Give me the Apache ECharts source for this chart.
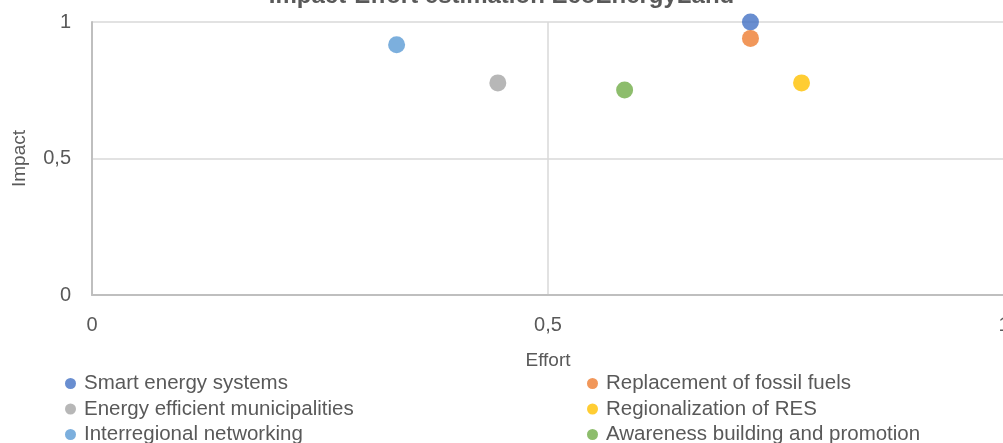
<!DOCTYPE html>
<html>
<head>
<meta charset="utf-8">
<script src="https://cdn.jsdelivr.net/npm/echarts@6/dist/echarts.min.js"></script>
<style>
  html, body { margin: 0; padding: 0; background: #fff; }
  #chart { width: 1003px; height: 443px; }
</style>
</head>
<body>
<div id="chart"></div>
<script>
// measures, in the order Excel lists them
const measureNames = [
  "Smart energy systems",
  "Replacement of fossil fuels",
  "Energy efficient municipalities",
  "Regionalization of RES",
  "Interregional networking",
  "Awareness building and promotion"
];
const effortValues = [0.722, 0.722, 0.445, 0.778, 0.334, 0.584];
const impactValues = [1.0, 0.94, 0.777, 0.777, 0.917, 0.751];
const measureColors = ["#4472C4", "#ED7D31", "#A5A5A5", "#FFC000", "#5B9BD5", "#70AD47"];
const axisTicks = [0, 0.5, 1];

const font = "'Liberation Sans', Arial, sans-serif";
const grey = "#595959";

let chart = echarts.init(document.getElementById("chart"));

function fmt(v) {
  return String(v).replace(".", ",");
}

let series = measureNames.map(function (name, i) {
  return {
    type: "scatter",
    name: name,
    symbolSize: 17,
    itemStyle: { color: measureColors[i] },
    data: [[effortValues[i], impactValues[i]]],
  };
});

let legendText = { fontFamily: font, fontSize: 20.5, color: grey, padding: [0, 0, 0, 3] };

let option = {
  animation: false,
  title: {
    text: "Impact-Effort estimation EcoEnergyLand",
    left: "center",
    top: -21,
    textStyle: { fontFamily: font, fontSize: 24, fontWeight: "bold", color: grey },
  },
  grid: { left: 92, right: -1, top: 22, bottom: 148, outerBoundsMode: "none" },
  xAxis: {
    type: "value",
    min: axisTicks[0],
    max: axisTicks[axisTicks.length - 1],
    interval: 0.5,
    name: "Effort",
    nameLocation: "middle",
    nameGap: 56,
    nameTextStyle: { fontFamily: font, fontSize: 19, color: grey },
    axisLine: { show: true, lineStyle: { color: "#BFBFBF", width: 2 } },
    axisTick: { show: false },
    splitLine: { show: true, lineStyle: { color: "#D9D9D9", width: 1.5 } },
    axisLabel: { fontFamily: font, fontSize: 20, color: grey, margin: 20, formatter: fmt },
  },
  yAxis: {
    type: "value",
    min: axisTicks[0],
    max: axisTicks[axisTicks.length - 1],
    interval: 0.5,
    name: "Impact",
    nameLocation: "middle",
    nameGap: 63,
    nameTextStyle: { fontFamily: font, fontSize: 19, color: grey },
    axisLine: { show: true, lineStyle: { color: "#BFBFBF", width: 2 } },
    axisTick: { show: false },
    splitLine: { show: true, lineStyle: { color: "#D9D9D9", width: 1.5 } },
    axisLabel: { fontFamily: font, fontSize: 20, color: grey, margin: 21, formatter: fmt },
  },
  legend: [
    {
      data: [measureNames[0], measureNames[2], measureNames[4]],
      orient: "vertical",
      left: 60,
      top: 368,
      height: 90,
      itemGap: 4.5,
      itemWidth: 11,
      itemHeight: 11,
      icon: "circle",
      textStyle: legendText,
    },
    {
      data: [measureNames[1], measureNames[3], measureNames[5]],
      orient: "vertical",
      left: 582,
      top: 368,
      height: 90,
      itemGap: 4.5,
      itemWidth: 11,
      itemHeight: 11,
      icon: "circle",
      textStyle: legendText,
    },
  ],
  series: series,
};

chart.setOption(option);
</script>
</body>
</html>
